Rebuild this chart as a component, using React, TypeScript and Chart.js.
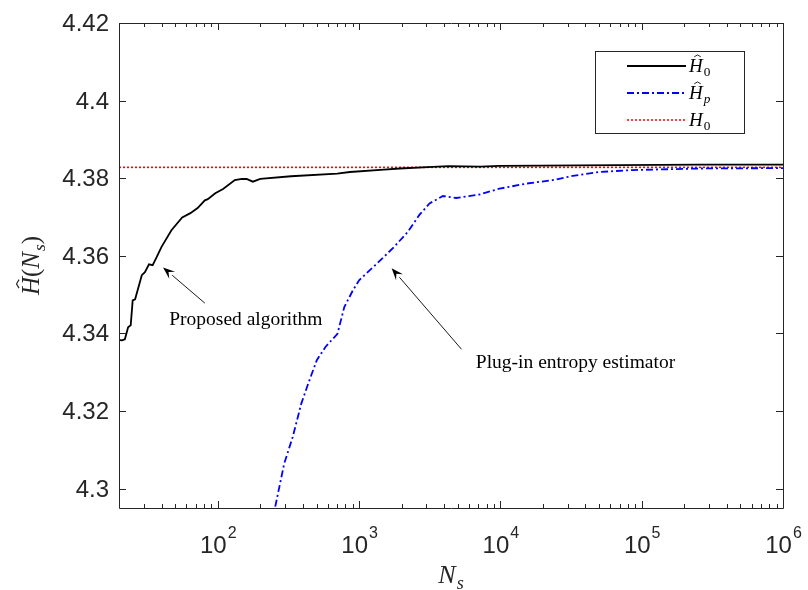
import React, { useEffect, useRef } from 'react';
import { Chart, registerables } from 'chart.js';

Chart.register(...registerables);

// True entropy of the source
const H0_TRUE = 4.3828;

// Proposed algorithm: sample size vs. estimated entropy
const proposedN = [20, 21, 22, 23.2, 24.2, 25, 26, 29, 30.5, 32.6, 34.6, 37, 40, 47, 56, 64, 72, 81, 85, 96, 109, 132, 148, 160, 177, 200, 330, 700, 860, 1500, 1940, 3310, 4300, 7200, 9860, 255000, 1e6];
const proposedH = [4.3383, 4.3382, 4.3385, 4.3416, 4.3421, 4.3485, 4.3488, 4.355, 4.3558, 4.3578, 4.3576, 4.3597, 4.3623, 4.3666, 4.3699, 4.371, 4.3723, 4.3743, 4.3746, 4.3761, 4.3772, 4.3795, 4.3798, 4.3798, 4.3791, 4.3798, 4.3805, 4.3812, 4.3816, 4.3822, 4.3825, 4.3829, 4.3831, 4.383, 4.3832, 4.3835, 4.3835];

// Plug-in estimator: sample size vs. estimated entropy
const pluginN = [220, 254, 295, 339, 390, 436, 502, 578, 703, 786, 904, 1000, 1339, 1772, 2214, 2680, 3150, 3920, 4870, 7120, 9860, 15200, 23400, 32500, 50100, 86300, 255000, 1e6];
const pluginH = [4.284, 4.295, 4.3064, 4.3133, 4.3219, 4.327, 4.3331, 4.3365, 4.3399, 4.3468, 4.3511, 4.3537, 4.358, 4.3623, 4.3662, 4.3706, 4.3735, 4.3754, 4.3749, 4.3758, 4.3773, 4.3786, 4.3795, 4.3806, 4.3816, 4.3821, 4.3825, 4.3826];

// Axes
const X_MIN = 20;
const X_MAX = 1e6;
const Y_MIN = 4.295;
const Y_MAX = 4.42;
const yTickValues = [4.3, 4.32, 4.34, 4.36, 4.38, 4.4, 4.42];
const yTickLabels = ['4.3', '4.32', '4.34', '4.36', '4.38', '4.4', '4.42'];
const xTickExponents = [2, 3, 4, 5, 6];

// Text callouts with arrows (data coordinates)
const calloutTexts = ['Proposed algorithm', 'Plug-in entropy estimator'];
const calloutTextAt = [[158, 4.3434], [34000, 4.3323]];
const calloutArrowFrom = [[81, 4.3478], [5310, 4.3359]];
const calloutArrowTo = [[41, 4.357], [1700, 4.3568]];

const SERIF = '"Liberation Serif", "Times New Roman", serif';
const SANS = '"Liberation Sans", Arial, Helvetica, sans-serif';
const AXIS_COLOR = '#262626';

type Run = { text: string; italic?: boolean; sub?: boolean; hat?: boolean };

function runFont(r: Run, size: number) {
  const s = r.sub ? size * 0.7 : size;
  return `${r.italic ? 'italic ' : ''}${s}px ${SERIF}`;
}

function measureRuns(ctx: CanvasRenderingContext2D, runs: Run[], size: number) {
  let w = 0;
  for (const r of runs) {
    ctx.font = runFont(r, size);
    w += ctx.measureText(r.text).width + (r.sub ? 1 : 0);
  }
  return w;
}

// Draws a small math expression (italic letters, hats, subscripts) starting at x on a baseline
function drawRuns(ctx: CanvasRenderingContext2D, runs: Run[], x: number, baseline: number, size: number) {
  let cx = x;
  ctx.textBaseline = 'alphabetic';
  ctx.textAlign = 'left';
  for (const r of runs) {
    ctx.font = runFont(r, size);
    const w = ctx.measureText(r.text).width;
    const by = r.sub ? baseline + size * 0.22 : baseline;
    if (r.sub) cx += 1;
    ctx.fillText(r.text, cx, by);
    if (r.hat) {
      const hx = cx + w * 0.62;
      const top = baseline - size * 0.9;
      const hw = size * 0.17;
      ctx.save();
      ctx.lineWidth = size * 0.045;
      ctx.beginPath();
      ctx.moveTo(hx - hw, top + size * 0.1);
      ctx.lineTo(hx, top);
      ctx.lineTo(hx + hw, top + size * 0.1);
      ctx.stroke();
      ctx.restore();
    }
    cx += w;
  }
  return cx;
}

const legendEntries: { runs: Run[]; color: string; dash: number[]; width: number }[] = [
  { runs: [{ text: 'H', italic: true, hat: true }, { text: '0', sub: true }], color: '#000000', dash: [], width: 1.8 },
  { runs: [{ text: 'H', italic: true, hat: true }, { text: 'p', italic: true, sub: true }], color: '#0000ff', dash: [7, 3, 2, 3], width: 1.8 },
  { runs: [{ text: 'H', italic: true }, { text: '0', sub: true }], color: '#ff0000', dash: [2, 2], width: 1.6 },
];

const decorPlugin = {
  id: 'decor',
  afterDraw(chart: any) {
    const { ctx, chartArea, scales } = chart;
    const xs = scales.x;
    const ys = scales.y;
    const { left, right, top, bottom } = chartArea;
    ctx.save();

    // Frame
    ctx.strokeStyle = AXIS_COLOR;
    ctx.lineWidth = 1;
    ctx.setLineDash([]);
    ctx.beginPath();
    ctx.rect(Math.round(left) + 0.5, Math.round(top) + 0.5, Math.round(right - left), Math.round(bottom - top));
    ctx.stroke();

    // Y ticks (inward, both sides) and labels
    ctx.fillStyle = AXIS_COLOR;
    ctx.font = `24px ${SANS}`;
    ctx.textAlign = 'right';
    ctx.textBaseline = 'middle';
    yTickValues.forEach((v, i) => {
      const y = Math.round(ys.getPixelForValue(v)) + 0.5;
      ctx.beginPath();
      ctx.moveTo(left, y);
      ctx.lineTo(left + 7, y);
      ctx.moveTo(right, y);
      ctx.lineTo(right - 7, y);
      ctx.stroke();
      ctx.fillText(yTickLabels[i], left - 10, y + 1);
    });

    // X ticks: majors and log minors, inward on bottom and top
    for (let e = 1; e <= 6; e++) {
      for (let m = 1; m <= 9; m++) {
        const v = m * Math.pow(10, e);
        if (v < X_MIN || v > X_MAX) continue;
        const x = Math.round(xs.getPixelForValue(v)) + 0.5;
        const len = m === 1 ? 7 : 4;
        ctx.beginPath();
        ctx.moveTo(x, bottom);
        ctx.lineTo(x, bottom - len);
        ctx.moveTo(x, top);
        ctx.lineTo(x, top + len);
        ctx.stroke();
      }
    }

    // X tick labels: 10 with superscript exponent
    ctx.textBaseline = 'alphabetic';
    ctx.textAlign = 'left';
    xTickExponents.forEach((ex) => {
      const x = xs.getPixelForValue(Math.pow(10, ex));
      ctx.font = `24px ${SANS}`;
      const wBase = ctx.measureText('10').width;
      ctx.font = `16px ${SANS}`;
      const wExp = ctx.measureText(String(ex)).width;
      const x0 = x - (wBase + wExp) / 2;
      ctx.font = `24px ${SANS}`;
      ctx.fillText('10', x0, bottom + 45);
      ctx.font = `16px ${SANS}`;
      ctx.fillText(String(ex), x0 + wBase + 1, bottom + 30);
    });

    // Axis titles
    ctx.fillStyle = AXIS_COLOR;
    const xTitle: Run[] = [{ text: 'N', italic: true }, { text: 's', italic: true, sub: true }];
    const xtw = measureRuns(ctx, xTitle, 26);
    drawRuns(ctx, xTitle, (left + right) / 2 - xtw / 2, bottom + 75, 26);

    const yTitle: Run[] = [
      { text: 'H', italic: true, hat: true },
      { text: '(' },
      { text: 'N', italic: true },
      { text: 's', italic: true, sub: true },
      { text: ')' },
    ];
    ctx.save();
    ctx.translate(left - 89, (top + bottom) / 2);
    ctx.rotate(-Math.PI / 2);
    const ytw = measureRuns(ctx, yTitle, 25);
    drawRuns(ctx, yTitle, -ytw / 2, 9, 25);
    ctx.restore();

    // Callouts
    ctx.fillStyle = '#000000';
    ctx.strokeStyle = '#1a1a1a';
    calloutTexts.forEach((t, i) => {
      const tx = xs.getPixelForValue(calloutTextAt[i][0]);
      const ty = ys.getPixelForValue(calloutTextAt[i][1]);
      ctx.font = `19.5px ${SERIF}`;
      ctx.textAlign = 'center';
      ctx.textBaseline = 'middle';
      ctx.fillText(t, tx, ty);
      const x1 = xs.getPixelForValue(calloutArrowFrom[i][0]);
      const y1 = ys.getPixelForValue(calloutArrowFrom[i][1]);
      const x2 = xs.getPixelForValue(calloutArrowTo[i][0]);
      const y2 = ys.getPixelForValue(calloutArrowTo[i][1]);
      const ang = Math.atan2(y2 - y1, x2 - x1);
      const hl = 12;
      const hw = 4.5;
      const bx = x2 - hl * Math.cos(ang);
      const by = y2 - hl * Math.sin(ang);
      ctx.lineWidth = 1;
      ctx.beginPath();
      ctx.moveTo(x1, y1);
      ctx.lineTo(bx, by);
      ctx.stroke();
      ctx.beginPath();
      ctx.moveTo(x2, y2);
      ctx.lineTo(bx - hw * Math.sin(ang), by + hw * Math.cos(ang));
      ctx.lineTo(x2 - 0.6 * hl * Math.cos(ang), y2 - 0.6 * hl * Math.sin(ang));
      ctx.lineTo(bx + hw * Math.sin(ang), by - hw * Math.cos(ang));
      ctx.closePath();
      ctx.fill();
    });

    // Legend box
    const lx = right - 188;
    const ly = top + 28;
    const lw = 149;
    const lh = 82;
    ctx.fillStyle = '#ffffff';
    ctx.fillRect(lx, ly, lw, lh);
    ctx.strokeStyle = AXIS_COLOR;
    ctx.lineWidth = 1;
    ctx.strokeRect(Math.round(lx) + 0.5, Math.round(ly) + 0.5, lw, lh);
    legendEntries.forEach((en, i) => {
      const y = ly + 15 + i * 27;
      ctx.strokeStyle = en.color;
      ctx.lineWidth = en.width;
      ctx.setLineDash(en.dash);
      ctx.beginPath();
      ctx.moveTo(lx + 32, y);
      ctx.lineTo(lx + 91, y);
      ctx.stroke();
      ctx.setLineDash([]);
      ctx.fillStyle = '#000000';
      ctx.strokeStyle = '#000000';
      drawRuns(ctx, en.runs, lx + 94, y + 6, 19);
    });

    ctx.restore();
  },
};

export default function App() {
  const canvasRef = useRef<HTMLCanvasElement | null>(null);

  useEffect(() => {
    const canvas = canvasRef.current;
    if (!canvas) return;
    const chart = new Chart(canvas, {
      type: 'line',
      data: {
        datasets: [
          {
            label: 'H0 hat',
            data: proposedN.map((n, i) => ({ x: n, y: proposedH[i] })),
            borderColor: '#000000',
            borderWidth: 1.8,
            pointRadius: 0,
            tension: 0,
          },
          {
            label: 'Hp hat',
            data: pluginN.map((n, i) => ({ x: n, y: pluginH[i] })),
            borderColor: '#0000ff',
            borderWidth: 1.8,
            borderDash: [7, 3, 2, 3],
            pointRadius: 0,
            tension: 0,
          },
          {
            label: 'H0',
            data: [
              { x: X_MIN, y: H0_TRUE },
              { x: X_MAX, y: H0_TRUE },
            ],
            borderColor: '#ff0000',
            borderWidth: 1.6,
            borderDash: [2, 2],
            pointRadius: 0,
          },
        ],
      },
      options: {
        responsive: false,
        animation: false,
        events: [],
        layout: { padding: { left: 119, right: 25, top: 23, bottom: 82 } },
        plugins: { legend: { display: false }, tooltip: { enabled: false } },
        scales: {
          x: {
            type: 'logarithmic',
            min: X_MIN,
            max: X_MAX,
            grid: { display: false },
            border: { display: false },
            ticks: { display: false },
            afterFit: (s: any) => {
              s.height = 0;
            },
          },
          y: {
            type: 'linear',
            min: Y_MIN,
            max: Y_MAX,
            grid: { display: false },
            border: { display: false },
            ticks: { display: false },
            afterFit: (s: any) => {
              s.width = 0;
            },
          },
        },
      },
      plugins: [decorPlugin],
    });
    return () => chart.destroy();
  }, []);

  return (
    <div style={{ position: 'absolute', left: 0, top: 0, width: 808, height: 590, background: '#ffffff' }}>
      <canvas ref={canvasRef} width={808} height={590} />
    </div>
  );
}
